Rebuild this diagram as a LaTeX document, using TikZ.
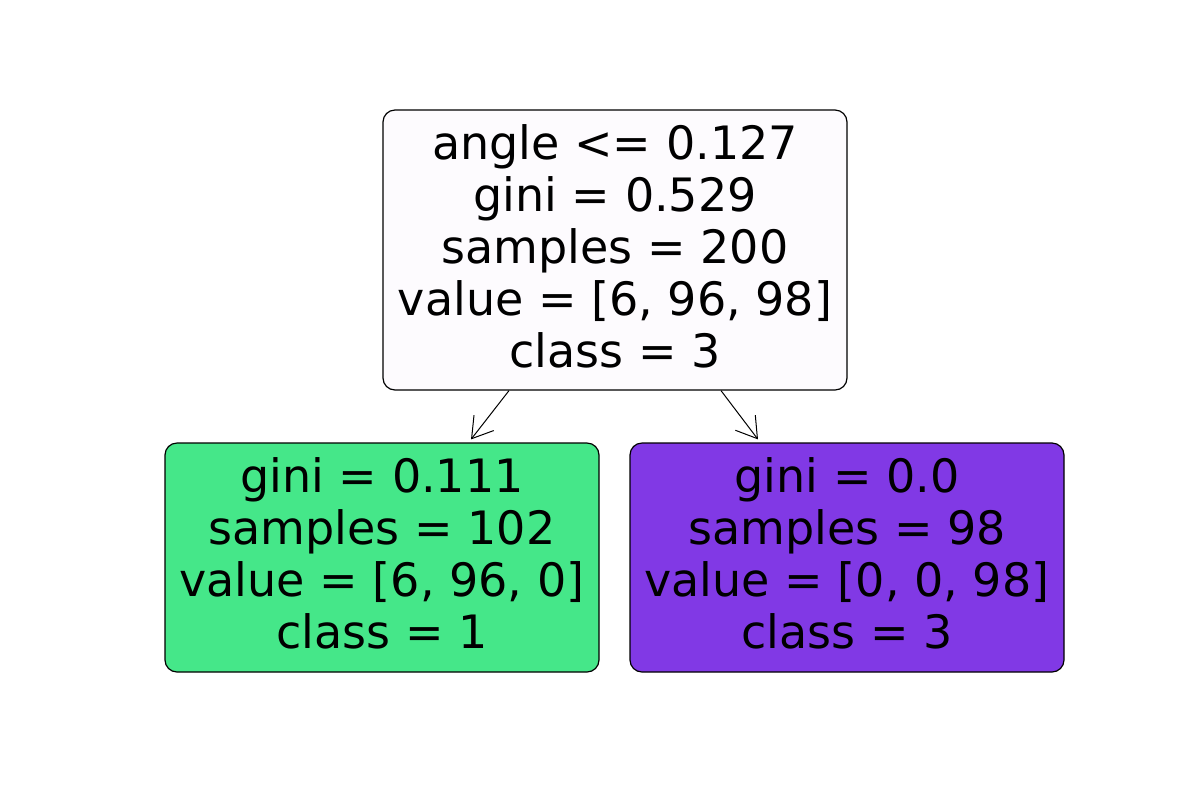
\documentclass[tikz,border=0pt]{standalone}
\usepackage{fontspec}
\setmainfont{DejaVu Sans}
\usetikzlibrary{arrows.meta,calc}
\definecolor{rootfill}{RGB}{253,251,254}
\definecolor{greenfill}{RGB}{69,231,137}
\definecolor{purplefill}{RGB}{129,57,229}
\begin{document}
\begin{tikzpicture}[x=0.5pt,y=-0.5pt,
  treebox/.style={draw=black,line width=0.6pt,rounded corners=6pt,inner sep=0pt},
  boxtext/.style={align=center,inner sep=0pt,font=\fontsize{23}{26}\selectfont},
  edge/.style={line width=0.5pt,-{Straight Barb[length=10pt,width=12.5pt,line width=0.5pt]}}]
\useasboundingbox (0,0) rectangle (1200,800);
% decision boxes
\node[treebox,fill=rootfill,minimum width=232pt,minimum height=140pt] (root) at (615,250) {};
\node[treebox,fill=greenfill,minimum width=217pt,minimum height=114.5pt] (left) at (382,557.5) {};
\node[treebox,fill=purplefill,minimum width=217pt,minimum height=114.5pt] (right) at (847,557.5) {};
% box contents
\node[boxtext] (roottext) at ($(root.center)+(0,-4)$)
  {angle <= 0.127\\gini = 0.529\\samples = 200\\value = [6, 96, 98]\\class = 3};
\node[boxtext] (lefttext) at ($(left.center)+(0,-4)$)
  {gini = 0.111\\samples = 102\\value = [6, 96, 0]\\class = 1};
\node[boxtext] (righttext) at ($(right.center)+(0,-4)$)
  {gini = 0.0\\samples = 98\\value = [0, 0, 98]\\class = 3};
% splits
\draw[edge] ($(root.south)+(-106,0)$) -- ($(left.north)+(89,-3)$);
\draw[edge] ($(root.south)+(106,0)$) -- ($(right.north)+(-89,-3)$);
\end{tikzpicture}
\end{document}
